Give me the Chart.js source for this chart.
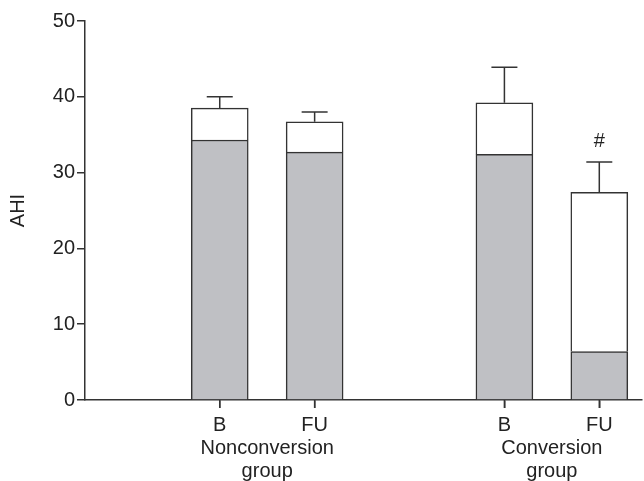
<!DOCTYPE html>
<html>
<head>
<meta charset="utf-8">
<script src="https://cdn.jsdelivr.net/npm/chart.js@4/dist/chart.umd.min.js"></script>
<style>body{margin:0;background:#fff}</style>
</head>
<body>
<canvas id="ahi" width="644" height="481"></canvas>
<script>
var groups = ['Nonconversion\ngroup', 'Conversion\ngroup'];
var visits = ['B', 'FU', 'B', 'FU'];
var greyPart = [34.3, 32.7, 32.4, 6.4];
var meanAhi = [38.5, 36.7, 39.2, 27.4];
var errAhi = [1.5, 1.3, 4.7, 4.0];
var marks = ['', '', '', '#'];
var yTicks = [0, 10, 20, 30, 40, 50];

var font = 'Liberation Sans, Arial, sans-serif';
var ink = '#333';

// bar i sits in group floor(i/2), with a gap of one slot between groups
function slot(i) { return 1.42 + Math.floor(i / 2) * 3 + (i % 2) }

var grey = [], white = [];
for (var i = 0; i < visits.length; i++) {
  grey.push({ x: slot(i), y: greyPart[i] });
  white.push({ x: slot(i), y: meanAhi[i] - greyPart[i] });
}

var extras = {
  id: 'extras',
  afterDraw: function(chart) {
    var ctx = chart.ctx, y = chart.scales.y, xs = chart.scales.x;
    var bars = chart.getDatasetMeta(1).data;
    ctx.save();
    ctx.strokeStyle = ink;
    ctx.lineWidth = 1.5;
    ctx.fillStyle = '#222';
    ctx.font = '20px ' + font;
    ctx.textAlign = 'center';
    ctx.textBaseline = 'middle';
    bars.forEach(function(bar, i) {
      var top = y.getPixelForValue(meanAhi[i]);
      var end = y.getPixelForValue(meanAhi[i] + errAhi[i]);
      ctx.beginPath();
      ctx.moveTo(bar.x, top);
      ctx.lineTo(bar.x, end);
      ctx.moveTo(bar.x - 13, end);
      ctx.lineTo(bar.x + 13, end);
      // tick mark under the bar
      ctx.moveTo(bar.x, xs.top);
      ctx.lineTo(bar.x, xs.top + 8);
      ctx.stroke();
      if (marks[i]) ctx.fillText(marks[i], bar.x, end - 21);
    });
    groups.forEach(function(g, k) {
      var cx = (bars[2 * k].x + bars[2 * k + 1].x) / 2;
      g.split('\n').forEach(function(line, n) {
        ctx.fillText(line, cx, xs.top + 48 + n * 23);
      });
    });
    ctx.restore();
  }
};

new Chart(document.getElementById('ahi'), {
  type: 'bar',
  data: {
    datasets: [{
      data: grey,
      backgroundColor: '#bfc0c4',
      borderColor: ink,
      borderWidth: 1.5,
      barThickness: 57
    }, {
      data: white,
      backgroundColor: '#fff',
      borderColor: ink,
      borderWidth: 1.5,
      barThickness: 57
    }]
  },
  options: {
    responsive: false,
    animation: false,
    layout: { padding: { top: 21, right: 2 } },
    plugins: { legend: { display: false }, tooltip: { enabled: false } },
    scales: {
      x: {
        type: 'linear',
        stacked: true,
        offset: false,
        min: 0,
        max: 5.87,
        afterBuildTicks: function(s) {
          s.ticks = visits.map(function(v, i) { return { value: slot(i) } });
        },
        afterFit: function(s) { s.height = 81 },
        grid: { offset: false, drawOnChartArea: false, tickLength: 8, color: ink, lineWidth: 1.5 },
        border: { color: ink, width: 1.5 },
        ticks: {
          autoSkip: false,
          maxRotation: 0,
          padding: 5,
          color: '#222',
          font: { family: font, size: 20 },
          callback: function(v, i) { return visits[i] }
        }
      },
      y: {
        stacked: true,
        min: 0,
        max: 50,
        afterBuildTicks: function(s) {
          s.ticks = yTicks.map(function(v) { return { value: v } });
        },
        afterFit: function(s) { s.width = 85 },
        grid: { drawOnChartArea: false, tickLength: 8, color: ink, lineWidth: 1.5 },
        border: { color: ink, width: 1.5 },
        ticks: { padding: 2, color: '#222', font: { family: font, size: 20 } },
        title: { display: true, text: 'AHI', color: '#222', font: { family: font, size: 20 }, padding: { top: 6, bottom: 0 } }
      }
    }
  },
  plugins: [extras]
});
</script>
</body>
</html>
